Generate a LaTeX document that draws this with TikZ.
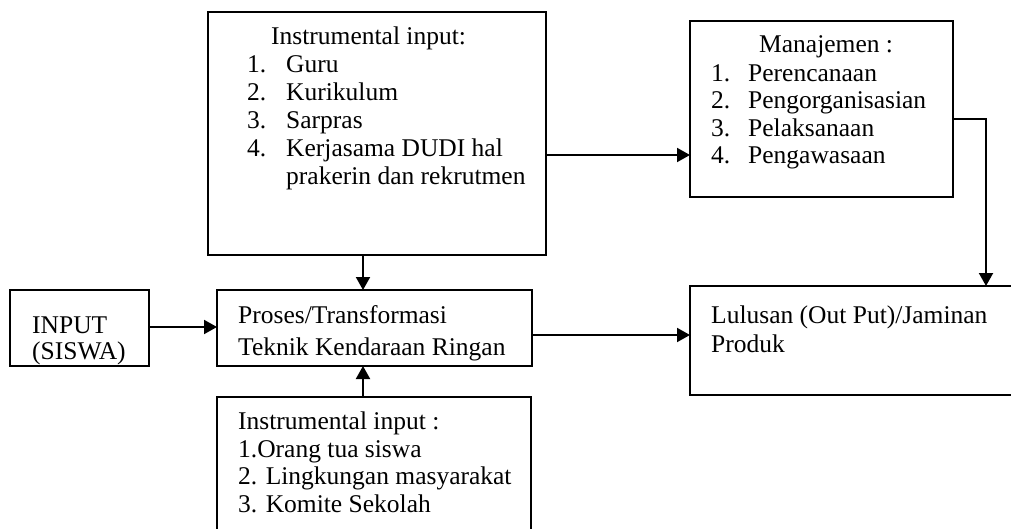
\documentclass[tikz,border=0pt]{standalone}
\usepackage{fontspec}
\setmainfont{Liberation Serif}
\usetikzlibrary{arrows.meta}
\begin{document}
\begin{tikzpicture}[x=1pt,y=-1pt,
 box/.style={draw,line width=2pt,anchor=north west,inner sep=0pt,outer sep=0pt},
 txt/.style={anchor=base west,inner sep=0pt,font=\fontsize{25.5}{28}\selectfont},
 arr/.style={line width=2pt,-{Triangle[length=13pt,width=14pt]}}]
\useasboundingbox (0,0) rectangle (1011,529);
\clip (0,0) rectangle (1011,529);
% boxes
\node[box,minimum width=338pt,minimum height=243pt] (T) at (208,12) {};
\node[box,minimum width=263pt,minimum height=176pt] (M) at (690,21) {};
\node[box,minimum width=139pt,minimum height=76pt] (I) at (10,290) {};
\node[box,minimum width=315pt,minimum height=76pt] (P) at (217,290) {};
\node[box,minimum width=340pt,minimum height=109pt] (L) at (690,286) {};
\node[box,minimum width=314pt,minimum height=150pt] (B) at (217,397) {};
% texts top box
\node[txt] (t0) at (271,45) {Instrumental input:};
\node[txt] (t1n) at (247,72.7) {1.};
\node[txt] (t1) at (286,72.7) {Guru};
\node[txt] (t2n) at (247,100.7) {2.};
\node[txt] (t2) at (286,100.7) {Kurikulum};
\node[txt] (t3n) at (247,128.7) {3.};
\node[txt] (t3) at (286,128.7) {Sarpras};
\node[txt] (t4n) at (247,156.7) {4.};
\node[txt] (t4) at (286,156.7) {Kerjasama DUDI hal};
\node[txt] (t5) at (286,184.3) {prakerin dan rekrutmen};
% manajemen
\node[txt] (m0) at (759,53) {Manajemen :};
\node[txt] (m1n) at (711,81.7) {1.};
\node[txt] (m1) at (748,81.7) {Perencanaan};
\node[txt] (m2n) at (711,109) {2.};
\node[txt] (m2) at (748,109) {Pengorganisasian};
\node[txt] (m3n) at (711,136.7) {3.};
\node[txt] (m3) at (748,136.7) {Pelaksanaan};
\node[txt] (m4n) at (711,164) {4.};
\node[txt] (m4) at (748,164) {Pengawasaan};
% input
\node[txt] (i0) at (32,333) {INPUT};
\node[txt] (i1) at (32,359) {(SISWA)};
% proses
\node[txt] (p0) at (238,323) {Proses/Transformasi};
\begin{scope}
\clip (217,290) rectangle (532,364.5);
\node[txt] (p1) at (238,355) {Teknik Kendaraan Ringan};
\end{scope}
% lulusan
\node[txt] (l0) at (711,323) {Lulusan (Out Put)/Jaminan};
\node[txt] (l1) at (711,352) {Produk};
% bottom
\node[txt] (b0) at (238,429) {Instrumental input :};
\node[txt] (b1) at (238,457) {1.Orang tua siswa};
\node[txt] (b2) at (238,484) {2. Lingkungan masyarakat};
\node[txt] (b3) at (238,512) {3. Komite Sekolah};
% connectors
\coordinate (ax) at (363,0);
\coordinate (rx) at (986,0);
\coordinate (y1) at (0,155);
\coordinate (y2) at (0,119);
\coordinate (y3) at (0,327);
\coordinate (y4) at (0,335);
\draw[arr] (T.south -| ax) -- (P.north -| ax);
\draw[arr] (B.north -| ax) -- (P.south -| ax);
\draw[arr] (I.east |- y3) -- (P.west |- y3);
\draw[arr] (P.east |- y4) -- (L.west |- y4);
\draw[arr] (T.east |- y1) -- (M.west |- y1);
\draw[arr] (M.east |- y2) -- (rx |- y2) -- (L.north -| rx);
\end{tikzpicture}
\end{document}
